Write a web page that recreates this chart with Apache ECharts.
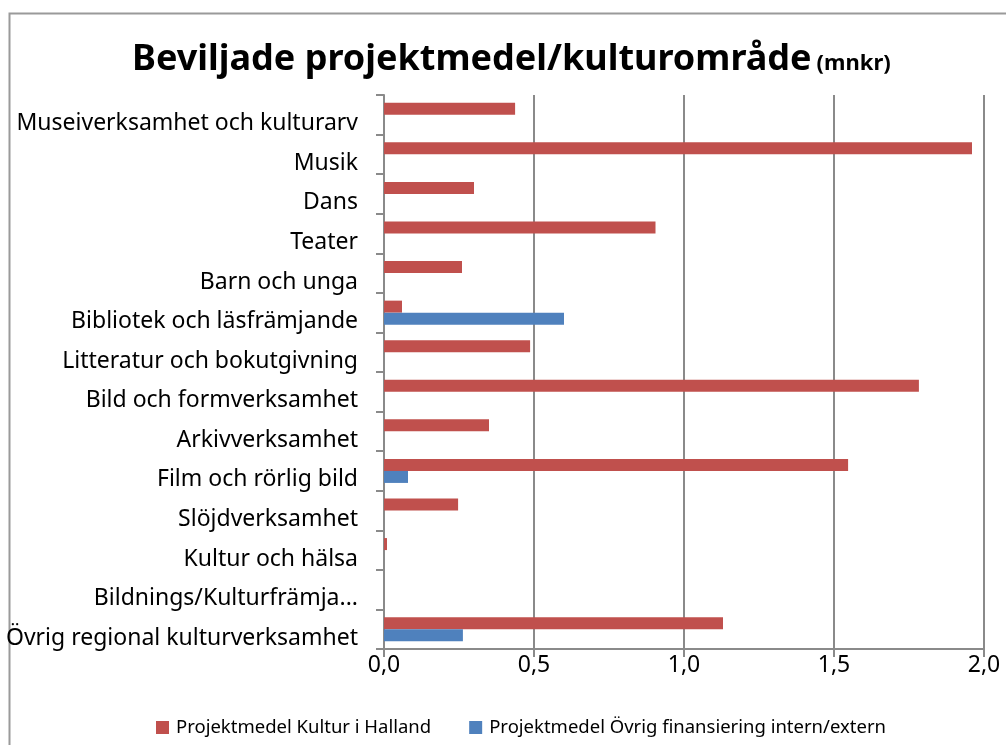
<!DOCTYPE html>
<html>
<head>
<meta charset="utf-8">
<script src="https://cdn.jsdelivr.net/npm/echarts@6/dist/echarts.min.js"></script>
<style>
html,body{margin:0;padding:0;background:#fff;}
#c{width:1006px;height:745px;}
</style>
</head>
<body>
<div id="c"></div>
<script>
const categories = [
  "Museiverksamhet och kulturarv",
  "Musik",
  "Dans",
  "Teater",
  "Barn och unga",
  "Bibliotek och läsfrämjande",
  "Litteratur och bokutgivning",
  "Bild och formverksamhet",
  "Arkivverksamhet",
  "Film och rörlig bild",
  "Slöjdverksamhet",
  "Kultur och hälsa",
  "Bildnings/Kulturfrämja...",
  "Övrig regional kulturverksamhet"
];
const kulturHalland = [0.437, 1.96, 0.30, 0.905, 0.26, 0.06, 0.487, 1.783, 0.35, 1.547, 0.247, 0.01, 0, 1.13];
const ovrigFinansiering = [0, 0, 0, 0, 0, 0.60, 0, 0, 0, 0.08, 0, 0, 0, 0.263];
const seriesNames = ["Projektmedel Kultur i Halland", "Projektmedel Övrig finansiering intern/extern"];
const xTicks = [0, 0.5, 1.0, 1.5, 2.0];

const FONT = "'Noto Sans', 'Open Sans', sans-serif";
const GRAY = '#8a8a8a';
const chart = echarts.init(document.getElementById('c'), null, {renderer: 'canvas'});
chart.setOption({
  animation: false,
  backgroundColor: '#ffffff',
  graphic: [{
    type: 'rect',
    shape: {x: 9.5, y: 13.5, width: 1010, height: 760},
    style: {fill: 'none', stroke: '#9a9a9a', lineWidth: 2},
    silent: true
  }],
  title: {
    left: 127,
    top: 37,
    text: '{a|Beviljade projektmedel/kulturområde} {b|(mnkr)}',
    textStyle: {
      rich: {
        a: {fontFamily: FONT, fontWeight: 'bold', fontSize: 36, color: '#000'},
        b: {fontFamily: FONT, fontWeight: 'bold', fontSize: 22, color: '#000', padding: [8, 0, 0, 0]}
      }
    }
  },
  legend: {
    left: 151,
    top: 713,
    itemWidth: 13,
    itemHeight: 13,
    itemGap: 38,
    icon: 'rect',
    textStyle: {fontFamily: FONT, fontSize: 18.5, color: '#000', padding: [0, 0, 0, 2]},
    data: seriesNames
  },
  grid: {left: 384, right: 22, top: 95, bottom: 96},
  xAxis: {
    type: 'value',
    min: 0,
    max: 2,
    interval: 0.5,
    axisLine: {show: true, lineStyle: {color: GRAY, width: 2}},
    axisTick: {show: true, length: 8, lineStyle: {color: GRAY, width: 2}},
    splitLine: {show: true, lineStyle: {color: GRAY, width: 2}},
    axisLabel: {
      margin: 5,
      fontFamily: FONT, fontSize: 23, color: '#000',
      formatter: v => v.toFixed(1).replace('.', ',')
    }
  },
  yAxis: {
    type: 'category',
    inverse: true,
    data: categories,
    axisLine: {show: true, lineStyle: {color: GRAY, width: 2}},
    axisTick: {show: true, length: 8, lineStyle: {color: GRAY, width: 2}},
    axisLabel: {
      margin: 26,
      fontFamily: FONT, fontSize: 23, color: '#000',
      verticalAlign: 'top',
      lineHeight: 18
    }
  },
  series: [
    {name: seriesNames[0], type: 'bar', data: kulturHalland, barWidth: 12, barGap: '0%', itemStyle: {color: '#C0504D'}},
    {name: seriesNames[1], type: 'bar', data: ovrigFinansiering, barWidth: 12, barGap: '0%', itemStyle: {color: '#4F81BD'}}
  ]
});
</script>
</body>
</html>
